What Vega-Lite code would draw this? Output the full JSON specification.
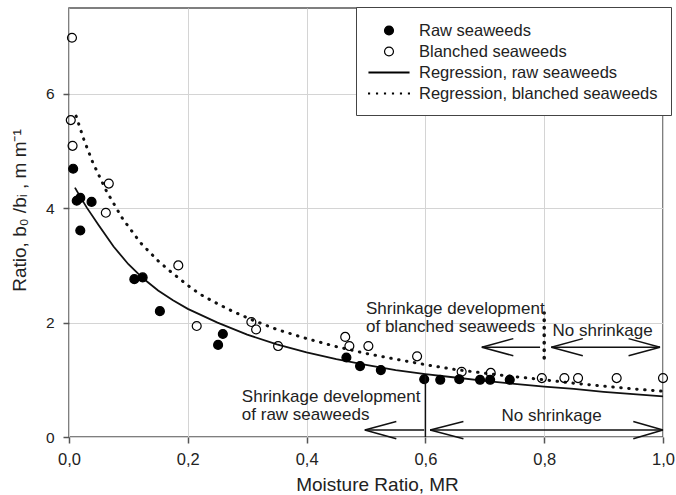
{
  "$schema": "https://vega.github.io/schema/vega-lite/v6.json",
  "width": 594,
  "height": 429,
  "autosize": {"type": "none"},
  "padding": {"left": 69, "top": 8, "right": 13, "bottom": 58},
  "background": "white",
  "config": {
    "view": {"stroke": "#555", "strokeWidth": 1.5},
    "font": "Liberation Sans",
    "axis": {
      "domain": false,
      "gridColor": "#d4d4d4",
      "gridWidth": 1,
      "tickColor": "#555",
      "tickWidth": 1.5,
      "tickSize": 6,
      "labelColor": "#222",
      "titleColor": "#222",
      "labelFont": "Liberation Sans",
      "titleFont": "Liberation Sans",
      "titleFontWeight": "normal"
    },
    "legend": {
      "orient": "none", "legendX": 287, "legendY": -1,
      "padding": 13, "symbolSize": 361, "symbolOffset": 9.5, "labelOffset": 19.5,
      "labelFontSize": 16.5, "labelFont": "Liberation Sans", "labelColor": "#222",
      "strokeColor": "#444", "fillColor": "white", "rowPadding": 2,
      "symbolStrokeWidth": 1.2, "labelLimit": 400
    }
  },
  "datasets": {
    "curves": [
      {"s": "raw", "x": 0.01, "y": 4.36}, {"s": "raw", "x": 0.02, "y": 4.18}, {"s": "raw", "x": 0.03, "y": 4.01},
      {"s": "raw", "x": 0.05, "y": 3.70}, {"s": "raw", "x": 0.075, "y": 3.33}, {"s": "raw", "x": 0.1, "y": 3.02},
      {"s": "raw", "x": 0.125, "y": 2.77}, {"s": "raw", "x": 0.15, "y": 2.56}, {"s": "raw", "x": 0.175, "y": 2.39},
      {"s": "raw", "x": 0.2, "y": 2.24}, {"s": "raw", "x": 0.25, "y": 2.0}, {"s": "raw", "x": 0.3, "y": 1.79},
      {"s": "raw", "x": 0.35, "y": 1.62}, {"s": "raw", "x": 0.4, "y": 1.48}, {"s": "raw", "x": 0.45, "y": 1.36},
      {"s": "raw", "x": 0.5, "y": 1.26}, {"s": "raw", "x": 0.55, "y": 1.17}, {"s": "raw", "x": 0.6, "y": 1.10},
      {"s": "raw", "x": 0.65, "y": 1.04}, {"s": "raw", "x": 0.7, "y": 0.98}, {"s": "raw", "x": 0.75, "y": 0.93},
      {"s": "raw", "x": 0.8, "y": 0.88}, {"s": "raw", "x": 0.85, "y": 0.84}, {"s": "raw", "x": 0.9, "y": 0.79},
      {"s": "raw", "x": 0.95, "y": 0.75}, {"s": "raw", "x": 1.0, "y": 0.71},
      {"s": "bl", "x": 0.012, "y": 5.61}, {"s": "bl", "x": 0.025, "y": 5.2}, {"s": "bl", "x": 0.04, "y": 4.8},
      {"s": "bl", "x": 0.063, "y": 4.30}, {"s": "bl", "x": 0.09, "y": 3.82}, {"s": "bl", "x": 0.12, "y": 3.40},
      {"s": "bl", "x": 0.15, "y": 3.08}, {"s": "bl", "x": 0.17, "y": 2.90}, {"s": "bl", "x": 0.2, "y": 2.65},
      {"s": "bl", "x": 0.22, "y": 2.50}, {"s": "bl", "x": 0.25, "y": 2.33}, {"s": "bl", "x": 0.277, "y": 2.19},
      {"s": "bl", "x": 0.31, "y": 2.04}, {"s": "bl", "x": 0.35, "y": 1.88}, {"s": "bl", "x": 0.4, "y": 1.72},
      {"s": "bl", "x": 0.45, "y": 1.58}, {"s": "bl", "x": 0.5, "y": 1.46}, {"s": "bl", "x": 0.55, "y": 1.36},
      {"s": "bl", "x": 0.608, "y": 1.25}, {"s": "bl", "x": 0.65, "y": 1.18}, {"s": "bl", "x": 0.72, "y": 1.09},
      {"s": "bl", "x": 0.8, "y": 1.0}, {"s": "bl", "x": 0.85, "y": 0.94}, {"s": "bl", "x": 0.9, "y": 0.89},
      {"s": "bl", "x": 0.95, "y": 0.84}, {"s": "bl", "x": 1.0, "y": 0.80}
    ],
    "pts": [
      {"series": "Raw seaweeds", "x": 0.007, "y": 4.69},
      {"series": "Raw seaweeds", "x": 0.013, "y": 4.13},
      {"series": "Raw seaweeds", "x": 0.019, "y": 4.18},
      {"series": "Raw seaweeds", "x": 0.038, "y": 4.11},
      {"series": "Raw seaweeds", "x": 0.019, "y": 3.61},
      {"series": "Raw seaweeds", "x": 0.110, "y": 2.76},
      {"series": "Raw seaweeds", "x": 0.124, "y": 2.79},
      {"series": "Raw seaweeds", "x": 0.153, "y": 2.20},
      {"series": "Raw seaweeds", "x": 0.251, "y": 1.61},
      {"series": "Raw seaweeds", "x": 0.259, "y": 1.80},
      {"series": "Raw seaweeds", "x": 0.467, "y": 1.39},
      {"series": "Raw seaweeds", "x": 0.490, "y": 1.24},
      {"series": "Raw seaweeds", "x": 0.525, "y": 1.17},
      {"series": "Raw seaweeds", "x": 0.598, "y": 1.01},
      {"series": "Raw seaweeds", "x": 0.625, "y": 1.00},
      {"series": "Raw seaweeds", "x": 0.657, "y": 1.01},
      {"series": "Raw seaweeds", "x": 0.692, "y": 1.00},
      {"series": "Raw seaweeds", "x": 0.709, "y": 1.00},
      {"series": "Raw seaweeds", "x": 0.742, "y": 1.00},
      {"series": "Blanched seaweeds", "x": 0.005, "y": 6.98},
      {"series": "Blanched seaweeds", "x": 0.003, "y": 5.54},
      {"series": "Blanched seaweeds", "x": 0.006, "y": 5.09},
      {"series": "Blanched seaweeds", "x": 0.067, "y": 4.43},
      {"series": "Blanched seaweeds", "x": 0.062, "y": 3.92},
      {"series": "Blanched seaweeds", "x": 0.184, "y": 3.00},
      {"series": "Blanched seaweeds", "x": 0.215, "y": 1.94},
      {"series": "Blanched seaweeds", "x": 0.307, "y": 2.01},
      {"series": "Blanched seaweeds", "x": 0.315, "y": 1.88},
      {"series": "Blanched seaweeds", "x": 0.352, "y": 1.59},
      {"series": "Blanched seaweeds", "x": 0.465, "y": 1.75},
      {"series": "Blanched seaweeds", "x": 0.472, "y": 1.59},
      {"series": "Blanched seaweeds", "x": 0.504, "y": 1.59},
      {"series": "Blanched seaweeds", "x": 0.586, "y": 1.41},
      {"series": "Blanched seaweeds", "x": 0.661, "y": 1.14},
      {"series": "Blanched seaweeds", "x": 0.710, "y": 1.12},
      {"series": "Blanched seaweeds", "x": 0.796, "y": 1.03},
      {"series": "Blanched seaweeds", "x": 0.834, "y": 1.03},
      {"series": "Blanched seaweeds", "x": 0.857, "y": 1.03},
      {"series": "Blanched seaweeds", "x": 0.922, "y": 1.03},
      {"series": "Blanched seaweeds", "x": 1.0, "y": 1.03}
    ],
    "segs": [
      {"x": 0.695, "y": 1.57, "x2": 0.793, "y2": 1.57},
      {"x": 0.695, "y": 1.57, "x2": 0.748, "y2": 1.72},
      {"x": 0.695, "y": 1.57, "x2": 0.748, "y2": 1.42},
      {"x": 0.812, "y": 1.57, "x2": 0.995, "y2": 1.57},
      {"x": 0.812, "y": 1.57, "x2": 0.865, "y2": 1.72},
      {"x": 0.812, "y": 1.57, "x2": 0.865, "y2": 1.42},
      {"x": 0.995, "y": 1.57, "x2": 0.942, "y2": 1.72},
      {"x": 0.995, "y": 1.57, "x2": 0.942, "y2": 1.42},
      {"x": 0.498, "y": 0.122, "x2": 0.598, "y2": 0.122},
      {"x": 0.498, "y": 0.122, "x2": 0.551, "y2": 0.27},
      {"x": 0.498, "y": 0.122, "x2": 0.551, "y2": -0.03},
      {"x": 0.608, "y": 0.122, "x2": 1.0, "y2": 0.122},
      {"x": 0.608, "y": 0.122, "x2": 0.664, "y2": 0.27},
      {"x": 0.608, "y": 0.122, "x2": 0.664, "y2": -0.03},
      {"x": 1.0, "y": 0.122, "x2": 0.95, "y2": 0.27},
      {"x": 1.0, "y": 0.122, "x2": 0.95, "y2": -0.03},
      {"x": 0.6, "y": 0.0, "x2": 0.6, "y2": 1.07}
    ],
    "dotted": [
      {"x": 0.8, "y": 1.38, "x2": 0.8, "y2": 2.17}
    ],
    "notes": [
      {"x": 0.5, "y": 2.23, "text": "Shrinkage development"},
      {"x": 0.5, "y": 1.92, "text": "of blanched seaweeds"},
      {"x": 0.814, "y": 1.86, "text": "No shrinkage"},
      {"x": 0.291, "y": 0.705, "text": "Shrinkage development"},
      {"x": 0.291, "y": 0.385, "text": "of raw seaweeds"},
      {"x": 0.728, "y": 0.36, "text": "No shrinkage"}
    ]
  },
  "layer": [
    {
      "data": {"name": "curves"},
      "transform": [{"filter": "datum.s === 'raw'"}],
      "mark": {"type": "line", "color": "#111", "strokeWidth": 1.8},
      "encoding": {
        "x": {
          "field": "x", "type": "quantitative",
          "scale": {"domain": [0, 1], "nice": false},
          "axis": {
            "values": [0, 0.2, 0.4, 0.6, 0.8, 1.0],
            "labelExpr": "replace(format(datum.value, '.1f'), '.', ',')",
            "labelFontSize": 16.5, "labelPadding": 8, "labelFlush": false,
            "title": "Moisture Ratio, MR", "titleFontSize": 19,
            "titleX": 308, "titleY": 53, "titleBaseline": "alphabetic", "titleAlign": "center"
          }
        },
        "y": {
          "field": "y", "type": "quantitative",
          "scale": {"domain": [0, 7.5], "nice": false},
          "axis": {
            "values": [0, 2, 4, 6],
            "format": "d",
            "labelFontSize": 15.5, "labelPadding": 9,
            "title": "Ratio, b₀ /bᵢ , m m⁻¹", "titleFontSize": 19,
            "titleX": -44, "titleY": 202, "titleAngle": -90, "titleBaseline": "alphabetic", "titleAlign": "center"
          }
        },
        "order": {"field": "x", "type": "quantitative"}
      }
    },
    {
      "data": {"name": "curves"},
      "transform": [{"filter": "datum.s === 'bl'"}],
      "mark": {"type": "line", "color": "#111", "strokeWidth": 3, "strokeDash": [0.5, 7.5], "strokeCap": "round"},
      "encoding": {
        "x": {"field": "x", "type": "quantitative"},
        "y": {"field": "y", "type": "quantitative"},
        "order": {"field": "x", "type": "quantitative"}
      }
    },
    {
      "data": {"name": "pts"},
      "mark": {"type": "point", "size": 361, "strokeWidth": 1.2, "opacity": 1, "filled": false},
      "encoding": {
        "x": {"field": "x", "type": "quantitative"},
        "y": {"field": "y", "type": "quantitative"},
        "shape": {
          "field": "series", "type": "nominal", "title": null,
          "scale": {
            "domain": ["Raw seaweeds", "Blanched seaweeds", "Regression, raw seaweeds", "Regression, blanched seaweeds"],
            "range": [
              "M-0.47,0A0.47,0.47,0,1,1,0.47,0A0.47,0.47,0,1,1,-0.47,0Z",
              "M-0.47,0A0.47,0.47,0,1,1,0.47,0A0.47,0.47,0,1,1,-0.47,0Z",
              "M-2.1,-0.04H2.1V0.04H-2.1Z",
              "M-2.15,-0.05h0.1v0.1h-0.1Z M-1.31,-0.05h0.1v0.1h-0.1Z M-0.47,-0.05h0.1v0.1h-0.1Z M0.37,-0.05h0.1v0.1h-0.1Z M1.21,-0.05h0.1v0.1h-0.1Z M2.05,-0.05h0.1v0.1h-0.1Z"
            ]
          }
        },
        "fill": {
          "field": "series", "type": "nominal", "title": null,
          "scale": {
            "domain": ["Raw seaweeds", "Blanched seaweeds", "Regression, raw seaweeds", "Regression, blanched seaweeds"],
            "range": ["#000", "transparent", "#000", "#000"]
          }
        },
        "stroke": {
          "field": "series", "type": "nominal", "title": null,
          "scale": {
            "domain": ["Raw seaweeds", "Blanched seaweeds", "Regression, raw seaweeds", "Regression, blanched seaweeds"],
            "range": ["#000", "#000", "#000", "#000"]
          }
        }
      }
    },
    {
      "data": {"name": "segs"},
      "mark": {"type": "rule", "color": "#111", "strokeWidth": 1.5},
      "encoding": {
        "x": {"field": "x", "type": "quantitative"},
        "y": {"field": "y", "type": "quantitative"},
        "x2": {"field": "x2"},
        "y2": {"field": "y2"}
      }
    },
    {
      "data": {"name": "dotted"},
      "mark": {"type": "rule", "color": "#111", "strokeWidth": 3.5, "strokeDash": [0.5, 7], "strokeCap": "round"},
      "encoding": {
        "x": {"field": "x", "type": "quantitative"},
        "y": {"field": "y", "type": "quantitative"},
        "x2": {"field": "x2"},
        "y2": {"field": "y2"}
      }
    },
    {
      "data": {"name": "notes"},
      "mark": {"type": "text", "align": "left", "baseline": "middle", "fontSize": 17, "font": "Liberation Sans", "color": "#222"},
      "encoding": {
        "x": {"field": "x", "type": "quantitative"},
        "y": {"field": "y", "type": "quantitative"},
        "text": {"field": "text"}
      }
    }
  ]
}
